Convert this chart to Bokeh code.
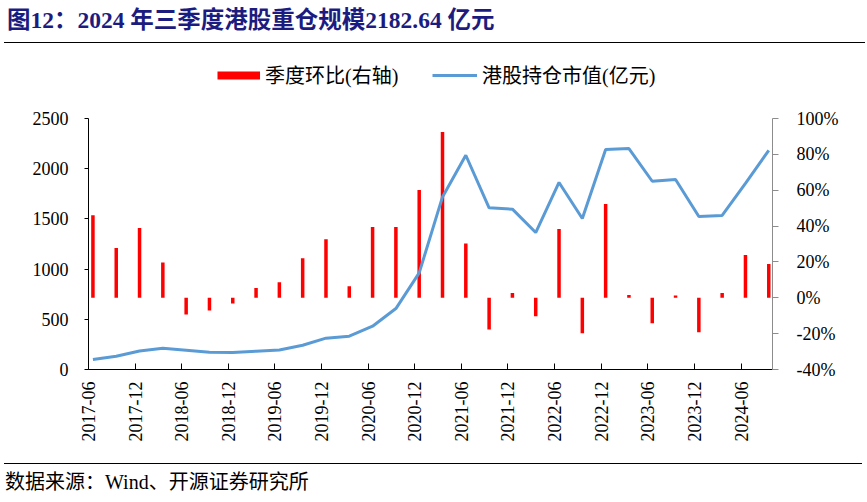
import math
from bokeh.plotting import figure
from bokeh.models import (Range1d, LinearAxis, FixedTicker, PrintfTickFormatter,
                          CustomJSTickFormatter, Legend, LegendItem, ColumnDataSource, Div)
from bokeh.layouts import column
from bokeh.embed import file_html
from bokeh.resources import INLINE

# ---------------- data ----------------
quarters = ["2017-06", "2017-09", "2017-12", "2018-03", "2018-06", "2018-09", "2018-12",
            "2019-03", "2019-06", "2019-09", "2019-12", "2020-03", "2020-06", "2020-09",
            "2020-12", "2021-03", "2021-06", "2021-09", "2021-12", "2022-03", "2022-06",
            "2022-09", "2022-12", "2023-03", "2023-06", "2023-09", "2023-12", "2024-03",
            "2024-06", "2024-09"]
holding_value = [100, 132, 185, 212, 192, 172, 169, 182, 195, 242, 312, 332, 431, 607,
                 962, 1719, 2134, 1610, 1597, 1364, 1863, 1504, 2191, 2201, 1875, 1892,
                 1524, 1534, 1853, 2182.64]
qoq_change = [46.0, 27.7, 38.9, 19.7, -9.3, -7.1, -3.2, 5.4, 8.7, 22.1, 32.7, 6.5, 39.5,
              39.5, 60.1, 92.5, 30.3, -17.7, 2.6, -10.3, 38.3, -19.8, 52.3, 1.5, -14.2,
              1.3, -19.2, 2.6, 23.8, 18.8]
tick_labels = quarters[::2]
left_ticks = [0, 500, 1000, 1500, 2000, 2500]
right_ticks = [-40, -20, 0, 20, 40, 60, 80, 100]
left_bounds = (0, 2500)
right_bounds = (-40, 100)

title_text = "图12：2024 年三季度港股重仓规模2182.64 亿元"
source_text = "数据来源：Wind、开源证券研究所"
bar_label = "季度环比(右轴)"
line_label = "港股持仓市值(亿元)"

# ---------------- styles / layout ----------------
FONT = "'Liberation Serif', 'Noto Sans CJK SC'"
W = 867
TOP_H, MAIN_H, BOT_H = 44, 419, 39
X_START, X_END = -0.19, 29.16
# frame extends above the axes so the legend can sit inside it
AXIS_PX = 251          # height of the drawn axes (2500 / 100%)
FRAME_PX = 319         # full frame height
scale = FRAME_PX / AXIS_PX

# ---------------- title ----------------
top = Div(width=W, height=TOP_H, margin=0, text=(
    f'<div style="margin-left:4px;width:858px;height:42px;border-bottom:1.5px solid #000;'
    f'font-family:{FONT};font-weight:bold;font-size:23.5px;color:#1c1c80;'
    f'line-height:40px;white-space:nowrap;padding-left:3px;box-sizing:content-box;">'
    f'{title_text}</div>'))

# ---------------- main chart ----------------
idx = list(range(len(quarters)))
src = ColumnDataSource(dict(x=idx, v=holding_value, c=qoq_change, q=quarters))

y_top = left_bounds[0] + (left_bounds[1] - left_bounds[0]) * scale
r_top = right_bounds[0] + (right_bounds[1] - right_bounds[0]) * scale

p = figure(width=W, height=MAIN_H, x_range=Range1d(X_START, X_END),
           y_range=Range1d(left_bounds[0], y_top),
           output_backend="svg", toolbar_location=None,
           min_border_left=88, min_border_right=95, min_border_top=6, min_border_bottom=94,
           outline_line_color=None)
p.extra_y_ranges = {"pct": Range1d(right_bounds[0], r_top)}
p.grid.visible = False

bars = p.vbar(x="x", top="c", bottom=0, width=0.15, source=src, y_range_name="pct",
              fill_color="#ff0000", line_color=None)
ln = p.line(x="x", y="v", source=src, line_color="#5b9bd5", line_width=3)
# legend swatch for the bars: a one-point line (draws nothing in the plot) shown 8px thick
bar_swatch = p.line(x=idx[:1], y=qoq_change[:1], y_range_name="pct",
                    line_color="#ff0000", line_width=8, line_cap="butt")

# x axis
xa = p.xaxis[0]
xa.ticker = FixedTicker(ticks=[X_START + 2 * k for k in range(len(tick_labels))])
xa.formatter = CustomJSTickFormatter(args=dict(labels=tick_labels, start=X_START), code="""
const k = Math.round((tick - start) / 2);
return (k >= 0 && k < labels.length) ? labels[k] : "";
""")
xa.major_label_orientation = math.pi / 2
xa.major_tick_in = 6
xa.major_tick_out = 0
xa.minor_tick_line_color = None
xa.axis_line_color = "black"
xa.major_tick_line_color = "black"
xa.major_label_standoff = 12
xa.major_label_text_font = FONT
xa.major_label_text_font_size = "18px"
xa.major_label_text_color = "black"

# left axis
ya = p.yaxis[0]
ya.bounds = left_bounds
ya.ticker = FixedTicker(ticks=left_ticks)
ya.major_tick_in = 0
ya.major_tick_out = 4
ya.minor_tick_line_color = None
ya.axis_line_color = "black"
ya.major_tick_line_color = "black"
ya.major_label_standoff = 16
ya.major_label_text_font = FONT
ya.major_label_text_font_size = "18px"
ya.major_label_text_color = "black"

# right axis
ra = LinearAxis(y_range_name="pct", ticker=FixedTicker(ticks=right_ticks),
                formatter=PrintfTickFormatter(format="%d%%"), bounds=right_bounds)
ra.major_tick_in = 0
ra.major_tick_out = 6
ra.minor_tick_line_color = None
ra.axis_line_color = "#8c8c8c"
ra.major_tick_line_color = "#8c8c8c"
ra.major_label_standoff = 18
ra.major_label_text_font = FONT
ra.major_label_text_font_size = "18px"
ra.major_label_text_color = "black"
p.add_layout(ra, "right")

# legends (inside the frame, above the axes' top)
def make_legend(item, loc, gw, standoff):
    return Legend(items=[item], location=loc, orientation="horizontal",
                  border_line_color=None, background_fill_alpha=0, padding=0, margin=0,
                  glyph_width=gw, glyph_height=24, label_height=24, label_standoff=standoff,
                  label_text_font=FONT, label_text_font_size="20px", label_text_color="black")

p.add_layout(make_legend(LegendItem(label=bar_label, renderers=[bar_swatch]), (129, 280), 43, 5), "center")
p.add_layout(make_legend(LegendItem(label=line_label, renderers=[ln]), (344, 280), 45, 5), "center")

# ---------------- source ----------------
bot = Div(width=W, height=BOT_H, margin=0, text=(
    f'<div style="margin-left:4px;width:858px;border-top:1.5px solid #000;'
    f'font-family:{FONT};font-size:20px;color:#000;line-height:37px;'
    f'white-space:nowrap;padding-left:1px;">{source_text}</div>'))

layout = column(top, p, bot, spacing=0)
open("out.html", "w").write(file_html(layout, INLINE))
